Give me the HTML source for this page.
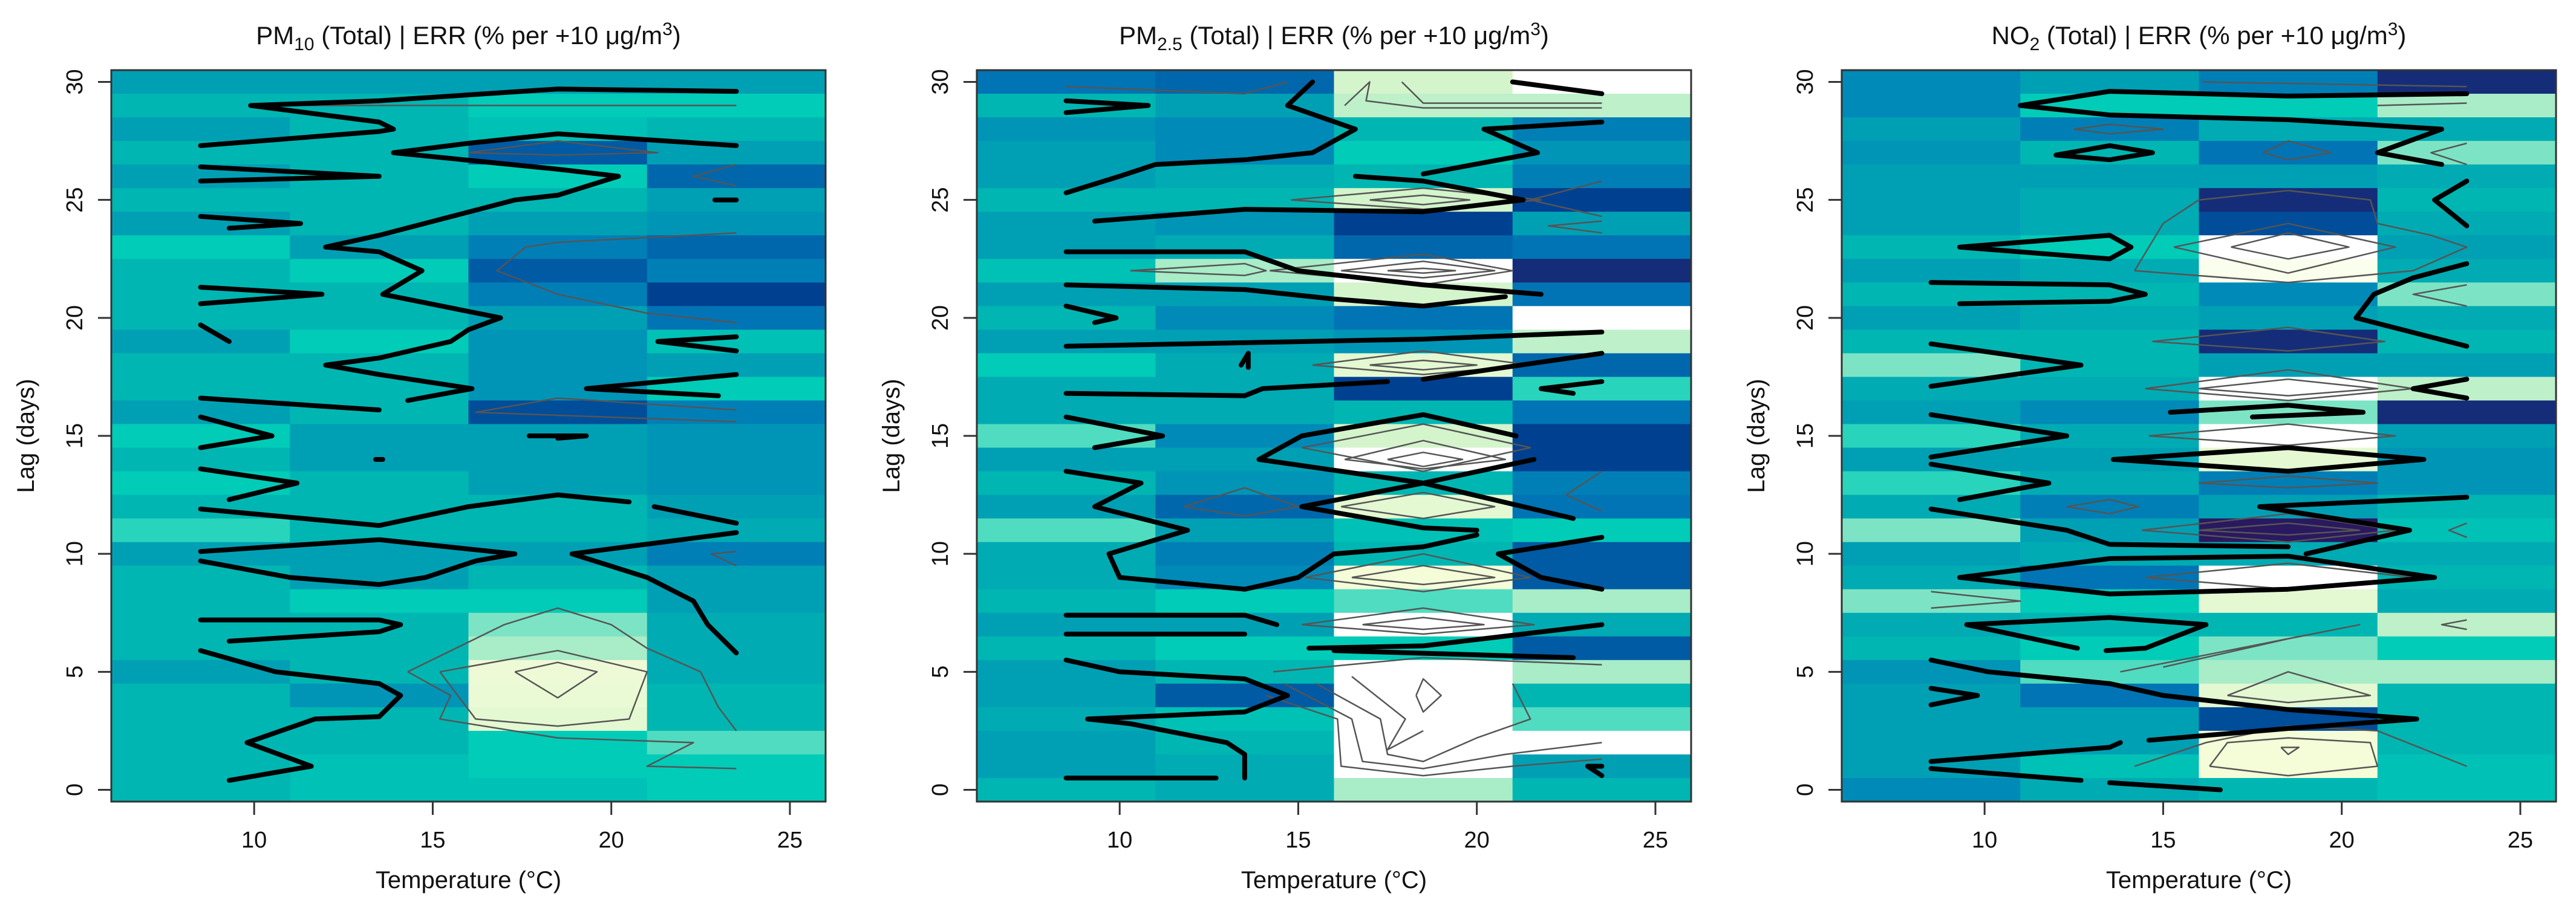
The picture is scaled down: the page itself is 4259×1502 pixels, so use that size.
<!DOCTYPE html>
<html><head><meta charset="utf-8"><style>
html,body{margin:0;padding:0;background:#fff}
svg{display:block}
text{font-family:"Liberation Sans",Arial,sans-serif;fill:#111}
</style></head><body>
<svg id="chart" width="4259" height="1502" viewBox="0 0 4259 1502" xmlns="http://www.w3.org/2000/svg"></svg>
<script>
// ---- data ----
const lags = [30,29,28,27,26,25,24,23,22,21,20,19,18,17,16,15,14,13,12,11,10,9,8,7,6,5,4,3,2,1,0];
const tempCenters = [8.5,13.5,18.5,23.5];
const xTicks = [10,15,20,25];
const yTicks = [0,5,10,15,20,25,30];
const titles = ["PM","PM","NO"];
const titleSubs = ["10","2.5","2"];
// ERR level per cell (columns = temperature bins, rows = lag 30..0)
const pm10Col1 = [7,6,7,6,7,6,7,5,6,6,6,7,6,6,7,5,6,5,6,4.5,7,6,6,6,6,7,6,6,6,6,6];
const pm10Col2 = [7,6,6,6,6,6,6,7,5,6,6,5,6,6,6,7,7,6,6,6,7,7,5,6,6,6,7.5,6,6,5.5,5.5];
const pm10Col3 = [7,5,5.5,10,5,6,7,8.5,10,8.5,7,7.5,7.5,7.5,10.5,7,7,7,6,6,7,6,5,3.5,3,1.2,1.3,1.5,5,5,5.5];
const pm10Col4 = [7,5,6,7,9.5,7,7.5,9.5,8.5,11,9,5.5,7,5,8.5,7.5,7.5,7.5,7,6.5,8.5,7,7,6.5,6.5,6.5,6,6,4,5,5];
const pm25Col1 = [9,6,7.5,7,7,6,7,7,5.5,7,6,7,5,6.5,6.5,4,7,6,7,4,6.5,6.5,6,7,6,7,7,6.5,7,7,6];
const pm25Col2 = [9.5,7,8,8,6.5,6,7.5,6.5,3,7,8,7,6.5,6.5,6.5,8,7,7.5,9.5,7,8.5,8,5,7,5,6,10,5.5,6,6.5,6.5];
const pm25Col3 = [2,2.5,6,5,6,2,11,9.5,0,2,9,7.5,1.5,11,6,2,0,6,1.5,5.5,6,1,4,0,5,0,0,0,0,0,3];
const pm25Col4 = [0,2.5,8.5,7.5,8.5,11,7,9,11.5,9,0,2.5,9.5,4.5,9,11,11,8.5,9,5,10,10,3,6.5,10,3,6,4,0,7,6];
const no2Col1 = [8,8,7,7.5,7,7,7,6,7,6,7,6,3.5,6.5,7,4.5,7,4.5,6.5,3.5,7,6.5,3.5,6.5,6,7.5,7,7,7,7,8];
const no2Col2 = [7,5,8.5,6,7,6.5,6.5,5,6.5,6,6.5,6,6,6.5,8,6.5,7,6.5,8.5,7,6.5,9,5,6,5,4,9,7,7,5.5,6.5];
const no2Col3 = [8.5,5,6.5,9,7,11.5,10.5,0,0.5,8,7,11.5,7,0,3.5,0,1.5,8.5,7,12.5,6.5,0,1.5,6,3.5,3,1.5,10.5,1,1,6];
const no2Col4 = [11.5,3,6.5,3.5,6.5,6,6.5,7,6.5,3.5,6.5,6,7,2.5,11.5,7,7.5,7.5,6,5.5,6.5,6,6.5,2.5,5,3,6,6,6,5.5,5.5];
// thick zero-contours, points as [temperature, lag]
const pm10Contours = [
 [[23.5,29.6],[18.5,29.7],[13.5,29.2],[9.9,29],[13.5,28.3],[13.9,28],[13.5,27.9],[8.5,27.3]],
 [[23.5,27.3],[18.5,27.8],[16,27.4],[13.9,27],[18.5,26.3],[20.2,26],[18.5,25.2],[17.3,25],[13.5,23.5],[12,23],[13.5,22.8],[14.7,22],[13.6,21],[16.9,20],[16,19.5],[15.5,19],[13.5,18.3],[12,18],[13.5,17.6],[16.1,17],[14.3,16.5]],
 [[13.5,16.1],[8.5,16.6]],
 [[8.5,26.4],[13.5,26],[8.5,25.8]],
 [[8.5,24.3],[11.3,24],[9.3,23.8]],
 [[8.5,21.3],[11.9,21],[8.5,20.6]],
 [[8.5,19.7],[9.3,19]],
 [[23.5,19.2],[21.3,19],[23.5,18.6]],
 [[23.5,17.6],[19.3,17],[23,16.7]],
 [[8.5,15.8],[10.5,15],[8.5,14.5]],
 [[8.5,13.6],[11.2,13],[9.3,12.3]],
 [[8.5,11.9],[13.5,11.2],[16,12],[18.5,12.5],[20.5,12.2]],
 [[21.2,12],[23.5,11.3]],
 [[8.5,10.1],[13.5,10.6],[17.3,10],[16.2,9.7],[14.8,9],[13.5,8.7],[11,9],[8.5,9.7]],
 [[23.5,10.9],[18.9,10],[21,9],[22.3,8],[22.7,7],[23.5,5.8]],
 [[8.5,7.2],[13.5,7.2],[14.1,7],[13.5,6.7],[9.3,6.3]],
 [[8.5,5.9],[10.6,5],[13.5,4.5],[14.1,4],[13.5,3.1],[11.7,3],[9.8,2],[11.6,1],[9.3,0.4]],
 [[13.4,14],[13.6,14]],
 [[17.7,15],[19.3,15],[18.5,14.9]],
 [[23.5,25],[22.9,25]]
];
const pm10Thin = [
 [[15.2,5],[18.5,5.9],[21,5],[20.5,3],[18.5,2.7],[16.2,3],[15.2,5]],
 [[17.3,5],[18.5,5.4],[19.6,5],[18.5,3.9],[17.3,5]],
 [[14.3,5],[17,7],[18.5,7.7],[20,7],[21,6],[22.5,5],[23,3.5],[23.5,2.5]],
 [[14.3,5],[15.5,4],[15.2,3],[18.5,2.2],[22.3,2],[21,1],[23.5,0.9]],
 [[23.5,23.6],[18.5,23.2],[17.6,23],[16.8,22],[18.5,21],[21,20.2],[23.5,19.8]],
 [[16,27],[18.5,27.5],[21.3,27],[18.5,26.9],[16,27]],
 [[23.5,16.1],[18.5,16.6],[16.2,16],[23.5,15.6]],
 [[10.2,29],[23.5,29]],
 [[23.5,26.5],[22.3,26],[23.5,25.6]],
 [[23.5,10.1],[22.8,10],[23.5,9.5]]
];
const pm25Contours = [
 [[8.5,29.2],[10.8,29],[8.5,28.7]],
 [[15.4,30],[14.7,29],[16.6,28],[16,27.5],[15.4,27],[13.5,26.7],[11,26.5],[10,26],[8.5,25.3]],
 [[9.3,24.1],[13.5,24.6],[18.5,24.5],[21.3,25],[18.5,25.8],[16.6,26]],
 [[18.5,26.1],[21.7,27],[20.2,28],[23.5,28.3]],
 [[21,30],[23.5,29.5]],
 [[8.5,22.8],[13.5,22.8],[15,22],[18.5,21.4],[21.8,21]],
 [[8.5,21.4],[13.5,21.2],[16,20.8],[18.5,20.5],[20.8,20.9]],
 [[8.5,20.5],[9.9,20],[9.3,19.8]],
 [[8.5,18.8],[18.5,19.1],[23.5,19.4]],
 [[13.4,18],[13.6,18.5],[13.6,17.9]],
 [[8.5,16.8],[13.5,16.7],[14,17],[17.5,17.3]],
 [[18.5,17.4],[23.5,18.5]],
 [[23.5,17.3],[21.8,17],[22.7,16.8]],
 [[8.5,15.8],[11.2,15],[9.3,14.5]],
 [[21.1,15],[18.5,15.9],[15.1,15],[13.9,14],[18.5,13],[22.7,11.5]],
 [[21.6,14],[18.5,13],[15.1,12],[18.5,11.1],[20,11]],
 [[8.5,13.5],[10.6,13],[9.3,12],[11.9,11],[9.7,10],[10,9],[13.5,8.5],[15,9],[16,10],[18.5,10.3],[20,10.8]],
 [[23.5,10.7],[20.6,10],[21.8,9],[23.5,8.5]],
 [[8.5,7.4],[13.5,7.4],[14.4,7]],
 [[8.5,6.6],[13.5,6.6]],
 [[15.3,6],[18.5,6.1],[23.5,7]],
 [[16,5.9],[22.7,5.6]],
 [[8.5,5.5],[10,5],[13.5,4.7],[14.7,4],[13.5,3.3],[9.1,3],[10.3,2.8],[13,2],[13.5,1.5],[13.5,0.5]],
 [[8.5,0.5],[12.7,0.5]],
 [[23.5,0.6],[23.1,1],[23.5,1.0]]
];
const pm25Thin = [
 [[14.8,25],[18.5,25.5],[21.8,25],[18.5,24.6],[14.8,25]],
 [[17,25],[18.5,25.2],[19.8,25],[18.5,24.8],[17,25]],
 [[14.2,22],[18.5,22.7],[21,22],[18.5,21.4],[14.2,22]],
 [[16.2,22],[18.5,22.4],[20.5,22],[18.5,21.7],[16.2,22]],
 [[17.5,22],[18.5,22.1],[19.4,22],[18.5,21.9],[17.5,22]],
 [[10.3,22],[13.5,22.3],[14.1,22],[13.5,21.8],[10.3,22]],
 [[15.4,18],[18.5,18.6],[21.5,18],[18.5,17.6],[15.4,18]],
 [[17,18],[18.5,18.2],[20,18],[18.5,17.8],[17,18]],
 [[15.1,14.5],[18.5,15.5],[21.5,14.5],[18.5,13.5],[15.1,14.5]],
 [[16.3,14],[18.5,14.8],[20.8,14],[18.5,13.6],[16.3,14]],
 [[17.5,14],[18.5,14.3],[19.6,14],[18.5,13.7],[17.5,14]],
 [[11.8,12],[13.5,12.8],[15,12],[13.5,11.6],[11.8,12]],
 [[16.2,12],[18.5,12.6],[20.5,12],[18.5,11.5],[16.2,12]],
 [[15.2,9],[18.5,10],[21.5,9],[18.5,8.4],[15.2,9]],
 [[16.5,9],[18.5,9.5],[20.5,9],[18.5,8.7],[16.5,9]],
 [[15.1,7],[18.5,7.7],[21.6,7],[18.5,6.6],[15.1,7]],
 [[16.8,7],[18.5,7.3],[20.2,7],[18.5,6.8],[16.8,7]],
 [[14.3,5],[18.5,5.6],[23.5,5.3]],
 [[14.1,4],[16.1,3],[16.2,1],[18.5,0.6],[21,1],[23.5,1.3]],
 [[14.6,4.5],[16.5,3],[16.8,1.2],[18.5,0.9],[20.8,1.5],[23.5,2]],
 [[15.5,4.5],[17.3,3],[17.5,1.5],[18.5,1.2],[20,2.2],[21.5,3],[21,4.5]],
 [[16.5,4.8],[18,3],[17.5,1.7],[18.5,2.5]],
 [[18.3,4],[18.5,4.7],[19,4],[18.5,3.3],[18.3,4]],
 [[8.5,29.8],[13.5,29.5],[14.7,30]],
 [[16.3,29],[17,30],[16.9,29.2],[18.5,28.9],[23.5,28.9]],
 [[17.9,30],[18.5,29.1],[23.5,29.1]],
 [[23.5,25.8],[21.5,25],[23.5,24.3]],
 [[23.5,24.1],[22,23.9],[23.5,23.6]],
 [[23.5,13.5],[22.5,12.5],[23.5,11.8]]
];
const no2Contours = [
 [[23.5,29.5],[18.5,29.4],[13.5,29.6],[11,29],[13.5,28.6],[18.5,28.4],[22.8,28],[21,27],[22.8,26.5]],
 [[23.5,25.8],[22.6,25],[23.5,23.9]],
 [[12,26.9],[13.5,27.3],[14.7,27],[13.5,26.7],[12,26.9]],
 [[9.3,23],[13.5,23.5],[14.1,23],[13.5,22.5],[9.3,23]],
 [[8.5,21.5],[13.5,21.4],[14.5,21],[13.5,20.7],[9.3,20.6]],
 [[23.5,22.3],[22,21.7],[20.9,21],[20.4,20],[23.5,18.8]],
 [[8.5,18.9],[12.7,18],[8.5,17.1]],
 [[23.5,17.4],[22,17],[23.5,16.6]],
 [[15.2,16],[18.5,16.3],[20.6,16],[17.5,15.8]],
 [[8.5,15.9],[12.3,15],[8.5,14.1]],
 [[13.6,14],[18.5,14.5],[22.3,14],[18.5,13.5],[13.6,14]],
 [[8.5,13.8],[11.8,13],[9.3,12.3]],
 [[8.5,11.9],[12.3,11],[13.5,10.4],[18.5,10.3]],
 [[19,10],[21.9,11],[17.7,12],[23.5,12.4]],
 [[9.3,9],[13.5,9.8],[18.5,9.9],[22.6,9],[18.5,8.5],[13.5,8.3],[9.3,9]],
 [[12.6,6],[9.5,7],[13.5,7.3],[16.2,7],[14.5,6],[13.4,5.9]],
 [[8.5,5.5],[10.1,5],[13.5,4.5],[15,4],[18.5,3.4],[22.1,3],[18.5,2.6],[14.6,2.1]],
 [[13.8,2],[13.5,1.8],[8.5,1.2]],
 [[8.5,4.3],[9.8,4],[8.5,3.6]],
 [[8.5,0.9],[12.7,0.4]],
 [[13.5,0.3],[16.6,0]]
];
const no2Thin = [
 [[14.2,22],[15,24],[16,25],[18.5,25.4],[20.8,25],[21,24],[22.5,23.5],[23.5,23],[22,22],[18.5,21.5],[14.2,22]],
 [[15.3,23],[18.5,24],[21.5,23],[18.5,21.9],[15.3,23]],
 [[16.9,23],[18.5,23.6],[20.2,23],[18.5,22.5],[16.9,23]],
 [[17.8,27],[18.5,27.5],[19.7,27],[18.5,26.7],[17.8,27]],
 [[14.7,19],[18.5,19.6],[21.2,19],[18.5,18.6],[14.7,19]],
 [[14.5,17],[18.5,17.8],[22,17],[18.5,16.5],[14.5,17]],
 [[16,17],[18.5,17.4],[21,17],[18.5,16.7],[16,17]],
 [[14.6,15],[18.5,15.5],[21.5,15],[18.5,14.6],[14.6,15]],
 [[16,13],[18.5,13.3],[21,13],[18.5,12.8],[16,13]],
 [[14.4,11],[18.5,11.7],[21.5,11],[18.5,10.5],[14.4,11]],
 [[16,11],[18.5,11.3],[20.5,11],[18.5,10.8],[16,11]],
 [[14.5,9],[18.5,9.6],[22,9],[18.5,8.5],[14.5,9]],
 [[12.5,28],[13.5,28.2],[15,28],[13.5,27.8],[12.5,28]],
 [[12.3,12],[13.5,12.3],[14.3,12],[13.5,11.7],[12.3,12]],
 [[8.5,8.4],[11,8],[8.5,7.7]],
 [[13.8,5],[20.5,7],[18.5,6.4],[15,5.2]],
 [[16.8,4],[18.5,5],[20.8,4],[18.5,3.7],[16.8,4]],
 [[14.2,1],[16.2,2],[18.5,2.7],[21,2.5],[23.5,1]],
 [[16.3,1],[16.8,2],[18.5,2.2],[20.8,2],[21,1],[18.5,0.6],[16.3,1]],
 [[18.3,1.8],[18.5,1.5],[18.8,1.8],[18.3,1.8]],
 [[23.5,27.4],[22.5,27],[23.5,26.5]],
 [[23.5,21.4],[22,21],[23.5,20.5]],
 [[23.5,7.2],[22.8,7],[23.5,6.8]],
 [[23.5,11.3],[23,11],[23.5,10.7]],
 [[16.1,30],[23.5,29.8]],
 [[21,29],[23.5,29.1]]
];
// ---- layout ----
const NS="http://www.w3.org/2000/svg";
const svg=document.getElementById('chart');
const panelLefts=[184,1615,3045];
const PW=1181, PT=116, PH=1210;
const xMin=6,xMax=26,yMin=-0.5,yMax=30.5;
const stops=["#ffffff","#f4fcd8","#d4f4cc","#a8ecc8","#50dcc0","#00ccb8","#00b6b2","#00a0b4","#008ab8","#0074b4","#005aa4","#004090","#2a1860"];
function hex(c){return [1,3,5].map(i=>parseInt(c.substr(i,2),16));}
function color(v){v=Math.max(0,Math.min(12,v));const i=Math.min(11,Math.floor(v)),f=v-i;const a=hex(stops[i]),b=hex(stops[i+1]);return "rgb("+a.map((x,k)=>Math.round(x+(b[k]-x)*f)).join(",")+")";}
function el(tag,attrs,parent){const e=document.createElementNS(NS,tag);for(const k in attrs)e.setAttribute(k,attrs[k]);(parent||svg).appendChild(e);return e;}
const panels=[
 {cols:[pm10Col1,pm10Col2,pm10Col3,pm10Col4],cont:pm10Contours,thin:pm10Thin,name:"pm10"},
 {cols:[pm25Col1,pm25Col2,pm25Col3,pm25Col4],cont:pm25Contours,thin:pm25Thin,name:"pm25"},
 {cols:[no2Col1,no2Col2,no2Col3,no2Col4],cont:no2Contours,thin:no2Thin,name:"no2"}
];
panels.forEach((p,pi)=>{
  const L=panelLefts[pi];
  const sx=t=>L+(t-xMin)/(xMax-xMin)*PW;
  const sy=l=>PT+(yMax-l)/(yMax-yMin)*PH;
  const g=el('g',{});
  
  
  p.cols.forEach((col,ci)=>{
    const tc=tempCenters[ci];
    col.forEach((v,ri)=>{
      const lag=lags[ri];
      const r=el('rect',{x:sx(tc-2.5),y:sy(lag+0.5),width:sx(tc+2.5)-sx(tc-2.5)+0.6,height:sy(lag-0.5)-sy(lag+0.5)+0.6,fill:color(v)},g);
      
      
    });
  });
  p.thin.forEach(line=>{
    const pl=el('polyline',{points:line.map(q=>sx(q[0]).toFixed(1)+","+sy(q[1]).toFixed(1)).join(" "),fill:"none",stroke:"#555","stroke-width":2.5,"stroke-linejoin":"round"},g);
    
    
  });
  p.cont.forEach(line=>{
    const pl=el('polyline',{points:line.map(q=>sx(q[0]).toFixed(1)+","+sy(q[1]).toFixed(1)).join(" "),fill:"none",stroke:"#000","stroke-width":8,"stroke-linejoin":"round","stroke-linecap":"round"},g);
    
    
  });
  const box=el('rect',{x:L,y:PT,width:PW,height:PH,fill:"none",stroke:"#333","stroke-width":3},g);
  
  
  xTicks.forEach(t=>{
    const tk=el('line',{x1:sx(t),x2:sx(t),y1:PT+PH,y2:PT+PH+22,stroke:"#333","stroke-width":3},g);
    
    
    const tl=el('text',{x:sx(t),y:1402,"text-anchor":"middle","font-size":38},g);
    tl.textContent=t;
    
    
  });
  yTicks.forEach(t=>{
    const tk=el('line',{x1:L-22,x2:L,y1:sy(t),y2:sy(t),stroke:"#333","stroke-width":3},g);
    
    
    const tl=el('text',{x:0,y:0,"text-anchor":"middle","font-size":38,transform:"translate("+(L-48)+","+sy(t)+") rotate(-90)"},g);
    tl.textContent=t;
    
    
  });
  const xt=el('text',{x:L+PW/2,y:1469,"text-anchor":"middle","font-size":40},g);
  xt.textContent="Temperature (°C)";
  
  
  const yt=el('text',{x:0,y:0,"text-anchor":"middle","font-size":40,transform:"translate("+(L-128)+","+(PT+PH/2)+") rotate(-90)"},g);
  yt.textContent="Lag (days)";
  
  
  const tt=el('text',{x:L+PW/2,y:73,"text-anchor":"middle","font-size":42},g);
  
  
  const a=el('tspan',{},tt);a.textContent=titles[pi];
  const b=el('tspan',{"font-size":30,dy:10},tt);b.textContent=titleSubs[pi];
  const c=el('tspan',{dy:-10},tt);c.textContent=" (Total) | ERR (% per +10 \u03bcg/m";
  const d=el('tspan',{"font-size":30,dy:-15},tt);d.textContent="3";
  const e=el('tspan',{dy:15},tt);e.textContent=")";
});
</script>
</body></html>
